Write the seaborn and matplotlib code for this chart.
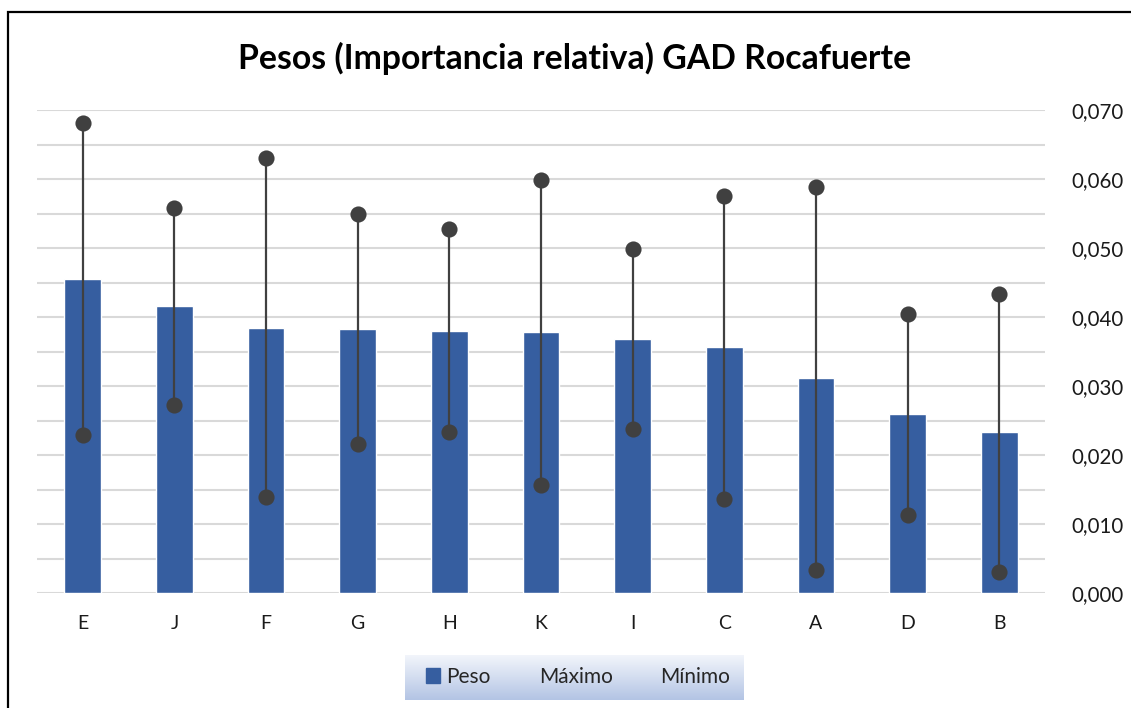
import numpy as np
import pandas as pd
import matplotlib
matplotlib.use('Agg')
import matplotlib.pyplot as plt
import seaborn as sns
from matplotlib.patches import Patch, Rectangle
from matplotlib.lines import Line2D
from matplotlib.ticker import FuncFormatter, MultipleLocator

# Datos
categorias = ['E', 'J', 'F', 'G', 'H', 'K', 'I', 'C', 'A', 'D', 'B']
peso = [0.0455, 0.0416, 0.0384, 0.0382, 0.0380, 0.0378, 0.0368, 0.0356, 0.0311, 0.0259, 0.0233]
maximo = [0.0681, 0.0558, 0.0631, 0.0550, 0.0528, 0.0598, 0.0499, 0.0575, 0.0589, 0.0405, 0.0434]
minimo = [0.0229, 0.0273, 0.0139, 0.0216, 0.0233, 0.0157, 0.0237, 0.0136, 0.0033, 0.0113, 0.0031]

titulo = 'Pesos (Importancia relativa) GAD Rocafuerte'
azul = '#365EA0'
gris_oscuro = '#404040'

df = pd.DataFrame({'categoria': categorias, 'peso': peso,
                   'maximo': maximo, 'minimo': minimo})

sns.set_style('white')
plt.rcParams['font.family'] = ['Lato', 'DejaVu Sans']

fig = plt.figure(figsize=(11.31, 7.08), dpi=100)
ax = fig.add_axes([37 / 1131, 1 - 593 / 708, (1045 - 37) / 1131, (593 - 110) / 708])

# Lineas de cuadricula (cada 0,005)
ax.yaxis.set_major_locator(MultipleLocator(0.010))
ax.yaxis.set_minor_locator(MultipleLocator(0.005))
ax.grid(True, axis='y', which='both', color='#D9D9D9', linewidth=1.5, zorder=0)
ax.set_axisbelow(True)

sns.barplot(data=df, x='categoria', y='peso', color=azul, width=0.4,
            saturation=1, ax=ax, zorder=2)

pos = np.arange(len(categorias))
ax.vlines(pos, df['minimo'], df['maximo'], color=gris_oscuro, linewidth=1.6, zorder=3)
ax.scatter(pos, df['maximo'], s=135, color=gris_oscuro, zorder=4, linewidths=0)
ax.scatter(pos, df['minimo'], s=135, color=gris_oscuro, zorder=4, linewidths=0)

ax.set_xlim(-0.5, len(categorias) - 0.5)
ax.set_ylim(0, 0.070)
ax.set_xlabel('')
ax.set_ylabel('')
for s in ['top', 'left', 'right', 'bottom']:
    ax.spines[s].set_visible(False)

ax.yaxis.tick_right()
ax.yaxis.set_major_formatter(FuncFormatter(lambda v, p: f'{v:.3f}'.replace('.', ',')))
ax.tick_params(axis='y', which='both', length=0, pad=19, labelsize=14.8, labelcolor='#1a1a1a')
ax.tick_params(axis='x', length=0, pad=16, labelsize=14, labelcolor='#1a1a1a')

fig.text(575 / 1131, 1 - 58 / 708, titulo, ha='center', va='center',
         fontsize=24.3, fontweight='bold', color='black')

# Leyenda con fondo degradado
lax = fig.add_axes([405 / 1131, 1 - 700 / 708, 339 / 1131, 45 / 708])
grad = np.linspace(0, 1, 100).reshape(-1, 1)
cmap = matplotlib.colors.LinearSegmentedColormap.from_list(
    'leg', ['#F2F5FB', '#D3DDF0', '#B3C4E4'])
lax.imshow(grad, aspect='auto', cmap=cmap, extent=[0, 1, 0, 1])
lax.axis('off')

handles = [Patch(facecolor=azul, edgecolor=azul),
           Line2D([], [], linestyle='none'),
           Line2D([], [], linestyle='none')]
fig.legend(handles, ['Peso', 'Máximo', 'Mínimo'], loc='center',
           bbox_to_anchor=(578 / 1131, 1 - 677 / 708), ncol=3, frameon=False,
           fontsize=15, handlelength=0.7, handleheight=0.7, handletextpad=0.3,
           columnspacing=1.3)

# Borde del grafico
fig.patches.append(Rectangle((8 / 1131, -0.05), 1.0, 1 - 12 / 708 + 0.05,
                             transform=fig.transFigure, fill=False,
                             edgecolor='black', linewidth=1.6))

fig.savefig('out.png', dpi=100)
